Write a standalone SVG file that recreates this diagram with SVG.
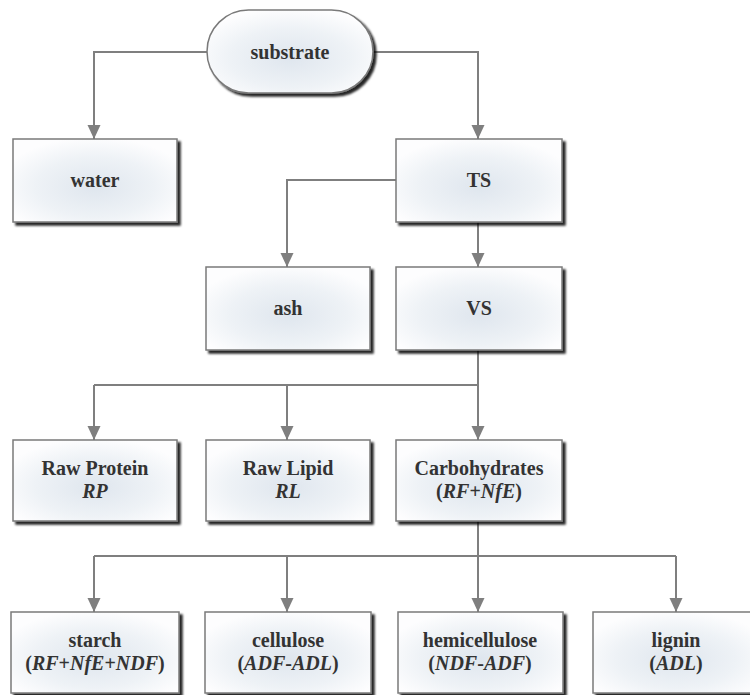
<svg xmlns="http://www.w3.org/2000/svg" width="750" height="695" viewBox="0 0 750 695">
  <defs>
    <radialGradient id="fill" cx="50%" cy="58%" r="60%">
      <stop offset="0" stop-color="#dfe6ee"/>
      <stop offset="0.6" stop-color="#eef2f6"/>
      <stop offset="1" stop-color="#fdfdfe"/>
    </radialGradient>
    <filter id="shadow" x="-10%" y="-10%" width="125%" height="130%">
      <feDropShadow dx="3" dy="3" stdDeviation="1.1" flood-color="#000" flood-opacity="0.85"/>
    </filter>
    <marker id="arrow" markerUnits="userSpaceOnUse" markerWidth="14" markerHeight="14" refX="14" refY="6.5" orient="auto">
      <path d="M0,0 L14,6.5 L0,13 Z" fill="#7f7f7f"/>
    </marker>
  </defs>
  <style>
    .box { fill: url(#fill); stroke: #7a7a7a; stroke-width: 1.5; filter: url(#shadow); }
    text { font-family: "Times New Roman", Times, Tinos, "Liberation Serif", "DejaVu Serif", serif; font-size: 20px; font-weight: bold; fill: #333; text-anchor: middle; }
    .it { font-style: italic; }
    .edge { fill: none; stroke: #7f7f7f; stroke-width: 2; }
    .arr { marker-end: url(#arrow); }
  </style>

  <g id="connectors">
    <polyline class="edge arr" points="207,52 94,52 94,139"/>
    <polyline class="edge arr" points="373,52 478,52 478,139"/>
    <polyline class="edge arr" points="396,180 287,180 287,267"/>
    <line class="edge arr" x1="478" y1="222" x2="478" y2="267"/>
    <line class="edge arr" x1="478" y1="350" x2="478" y2="440"/>
    <line class="edge" x1="94" y1="385" x2="478" y2="385"/>
    <line class="edge arr" x1="94" y1="385" x2="94" y2="440"/>
    <line class="edge arr" x1="287" y1="385" x2="287" y2="440"/>
    <line class="edge arr" x1="478" y1="521" x2="478" y2="612"/>
    <line class="edge" x1="94" y1="556" x2="676" y2="556"/>
    <line class="edge arr" x1="94" y1="556" x2="94" y2="612"/>
    <line class="edge arr" x1="287" y1="556" x2="287" y2="612"/>
    <line class="edge arr" x1="676" y1="556" x2="676" y2="612"/>
  </g>

  <g id="substrate">
    <rect class="box" x="207" y="10" width="166" height="83" rx="41.5"/>
    <text x="290" y="59">substrate</text>
  </g>
  <g id="water">
    <rect class="box" x="13" y="139" width="164" height="83"/>
    <text x="95" y="187">water</text>
  </g>
  <g id="ts">
    <rect class="box" x="396" y="139" width="166" height="83"/>
    <text x="479" y="187">TS</text>
  </g>
  <g id="ash">
    <rect class="box" x="206" y="267" width="164" height="83"/>
    <text x="288" y="315">ash</text>
  </g>
  <g id="vs">
    <rect class="box" x="396" y="267" width="166" height="83"/>
    <text x="479" y="315">VS</text>
  </g>
  <g id="raw-protein">
    <rect class="box" x="13" y="440" width="164" height="81"/>
    <text x="95" y="475">Raw Protein</text>
    <text class="it" x="95" y="498">RP</text>
  </g>
  <g id="raw-lipid">
    <rect class="box" x="206" y="440" width="164" height="81"/>
    <text x="288" y="475">Raw Lipid</text>
    <text class="it" x="288" y="498">RL</text>
  </g>
  <g id="carbohydrates">
    <rect class="box" x="396" y="440" width="166" height="81"/>
    <text x="479" y="475">Carbohydrates</text>
    <text x="479" y="498">(<tspan class="it">RF</tspan>+<tspan class="it">NfE</tspan>)</text>
  </g>
  <g id="starch">
    <rect class="box" x="11" y="612" width="168" height="81"/>
    <text x="95" y="647">starch</text>
    <text x="95" y="670">(<tspan class="it">RF</tspan>+<tspan class="it">NfE</tspan>+<tspan class="it">NDF</tspan>)</text>
  </g>
  <g id="cellulose">
    <rect class="box" x="205" y="612" width="166" height="81"/>
    <text x="288" y="647">cellulose</text>
    <text x="288" y="670">(<tspan class="it">ADF</tspan>-<tspan class="it">ADL</tspan>)</text>
  </g>
  <g id="hemicellulose">
    <rect class="box" x="398" y="612" width="165" height="81"/>
    <text x="480" y="647">hemicellulose</text>
    <text x="480" y="670">(<tspan class="it">NDF</tspan>-<tspan class="it">ADF</tspan>)</text>
  </g>
  <g id="lignin">
    <rect class="box" x="593" y="612" width="166" height="81"/>
    <text x="676" y="647">lignin</text>
    <text x="676" y="670">(<tspan class="it">ADL</tspan>)</text>
  </g>
</svg>
